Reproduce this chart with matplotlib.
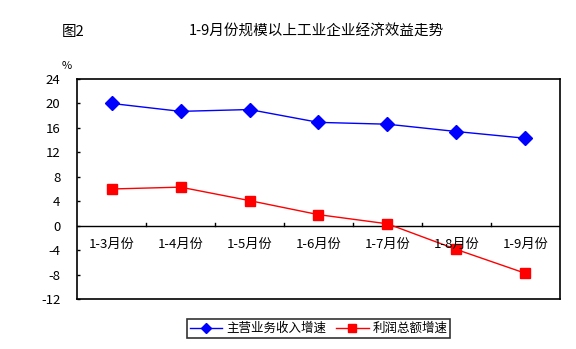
import numpy as np
import matplotlib
matplotlib.use('Agg')
import matplotlib.pyplot as plt

plt.rcParams['font.family'] = ['Noto Sans CJK SC', 'DejaVu Sans']
plt.rcParams['axes.unicode_minus'] = False

# 1-9月份规模以上工业企业经济效益
periods = ['1-3月份', '1-4月份', '1-5月份', '1-6月份', '1-7月份', '1-8月份', '1-9月份']
revenue_growth = [20.0, 18.7, 19.0, 16.9, 16.6, 15.4, 14.3]
profit_growth = [6.0, 6.3, 4.1, 1.8, 0.3, -3.9, -7.8]
y_ticks = list(range(-12, 25, 4))

fig = plt.figure(figsize=(5.76, 3.49), dpi=100)
ax = fig.add_axes([0.1337, 0.1433, 0.8385, 0.6304])

x = np.arange(len(periods))
ax.plot(x, revenue_growth, color='#0000ff', lw=1, marker='D', ms=7,
        mfc='#0000ff', mec='#0000ff', label='主营业务收入增速', zorder=3)
ax.plot(x, profit_growth, color='#ff0000', lw=1, marker='s', ms=7,
        mfc='#ff0000', mec='#ff0000', label='利润总额增速', zorder=3)

ax.set_xlim(-0.5, len(periods) - 0.5)
ax.set_ylim(-12, 24)
ax.set_yticks(y_ticks)
ax.set_yticklabels([str(t) for t in y_ticks], fontsize=9.5)
ax.tick_params(axis='y', direction='in', length=2, width=1, pad=12)

# category axis sits on the zero line
ax.set_xticks([])
ax.axhline(0, color='black', lw=1, zorder=2)
for b in np.arange(0.5, len(periods) - 0.5, 1):
    ax.plot([b, b], [0, 0.5], color='black', lw=1, zorder=2)
for i, p in enumerate(periods):
    ax.text(i, -3.1, p, ha='center', va='center', fontsize=9.5)

for s in ax.spines.values():
    s.set_linewidth(1.2)

fig.text(0.116, 0.812, '%', ha='center', va='center', fontsize=8)
fig.text(0.127, 0.908, '图2', ha='center', va='center', fontsize=10.5)
fig.text(0.55, 0.908, '1-9月份规模以上工业企业经济效益走势', ha='center', va='center', fontsize=10.5)

leg = fig.legend(loc='center', bbox_to_anchor=(0.553, 0.059), ncol=2, fontsize=9,
                 frameon=True, fancybox=False, edgecolor='black', handlelength=2.6,
                 handletextpad=0.3, columnspacing=0.8, borderpad=0.25, markerscale=0.8)
leg.get_frame().set_linewidth(1.2)

fig.savefig('out.png', dpi=100)
